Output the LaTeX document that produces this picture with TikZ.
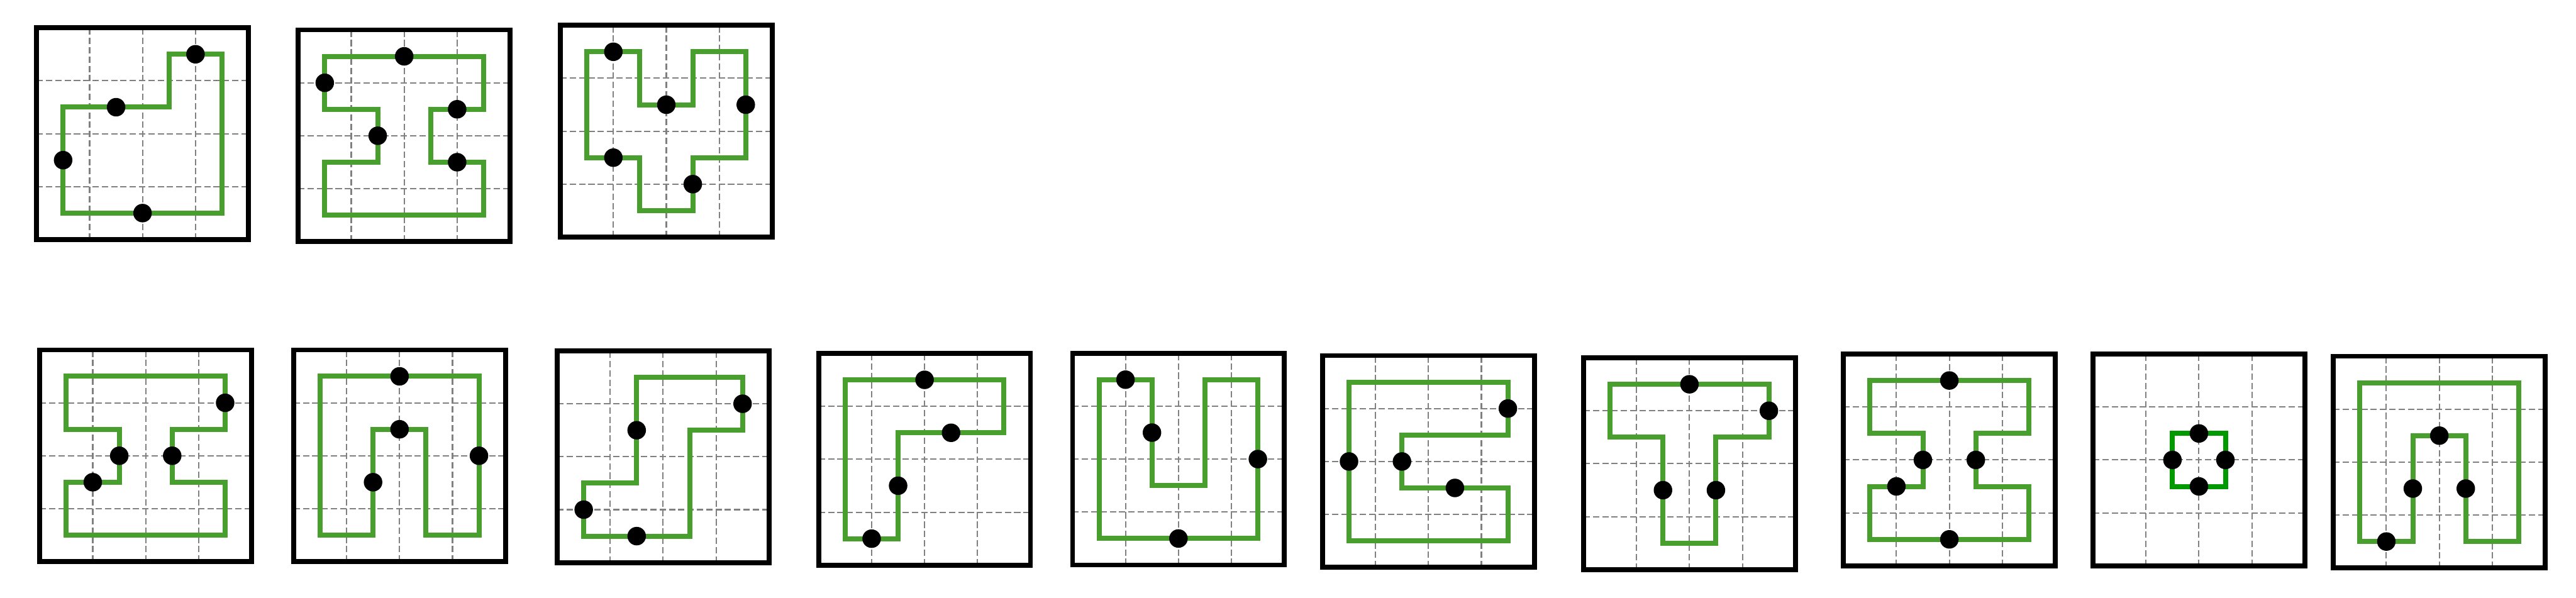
\documentclass[tikz,border=0pt]{standalone}
\usepackage{tikz}
\definecolor{shapegreen}{RGB}{73,159,45}
\definecolor{darkgreen}{RGB}{0,153,0}
\tikzstyle{panel}=[draw=black,line width=2.6pt]
\tikzstyle{gridline}=[draw=gray,line width=0.7pt,dash pattern=on 3.4pt off 1.6pt]
\tikzstyle{region}=[draw=shapegreen,line width=2.7pt]
\tikzstyle{dot}=[circle,fill=black,inner sep=0pt,minimum size=0.35cm]

\begin{document}
\begin{tikzpicture}

  \useasboundingbox (0,0) rectangle (48.646,11.283);

  % frames and dashed grids
  \foreach \x/\y in {0.692/6.758, 5.633/6.719, 10.583/6.805, 0.752/0.675, 5.545/0.675, 10.523/0.657, 15.460/0.609, 20.254/0.612, 24.975/0.567, 29.904/0.525, 34.812/0.596, 39.525/0.596, 44.064/0.555}{
    \begin{scope}[shift={(\x,\y)}]
      \foreach \i in {1,2,3}{
        \draw[gridline] (\i,0)--(\i,4);
        \draw[gridline] (0,\i)--(4,\i);
      }
      \draw[panel] (0,0) rectangle (4,4);
    \end{scope}
  }

  % top row
  \begin{scope}[shift={(0.692,6.758)}]
    \draw[region] (0.5,0.5)--(3.5,0.5)--(3.5,3.5)--(2.5,3.5)--(2.5,2.5)--(0.5,2.5)--cycle;
    \node[dot] (A1) at (3,3.5) {};
    \node[dot] (A2) at (1.5,2.5) {};
    \node[dot] (A3) at (0.5,1.5) {};
    \node[dot] (A4) at (2,0.5) {};
  \end{scope}

  \begin{scope}[shift={(5.633,6.719)}]
    \draw[region] (0.5,3.5)--(3.5,3.5)--(3.5,2.5)--(2.5,2.5)--(2.5,1.5)--(3.5,1.5)--(3.5,0.5)--(0.5,0.5)--(0.5,1.5)--(1.5,1.5)--(1.5,2.5)--(0.5,2.5)--cycle;
    \node[dot] (B1) at (2,3.5) {};
    \node[dot] (B2) at (0.5,3) {};
    \node[dot] (B3) at (3,2.5) {};
    \node[dot] (B4) at (1.5,2) {};
    \node[dot] (B5) at (3,1.5) {};
  \end{scope}

  \begin{scope}[shift={(10.583,6.805)}]
    \draw[region] (0.5,3.5)--(1.5,3.5)--(1.5,2.5)--(2.5,2.5)--(2.5,3.5)--(3.5,3.5)--(3.5,1.5)--(2.5,1.5)--(2.5,0.5)--(1.5,0.5)--(1.5,1.5)--(0.5,1.5)--cycle;
    \node[dot] (C1) at (1,3.5) {};
    \node[dot] (C2) at (2,2.5) {};
    \node[dot] (C3) at (3.5,2.5) {};
    \node[dot] (C4) at (1,1.5) {};
    \node[dot] (C5) at (2.5,1) {};
  \end{scope}

  % bottom row
  \begin{scope}[shift={(0.752,0.675)}]
    \draw[region] (0.5,3.5)--(3.5,3.5)--(3.5,2.5)--(2.5,2.5)--(2.5,1.5)--(3.5,1.5)--(3.5,0.5)--(0.5,0.5)--(0.5,1.5)--(1.5,1.5)--(1.5,2.5)--(0.5,2.5)--cycle;
    \node[dot] (D1) at (3.5,3) {};
    \node[dot] (D2) at (1.5,2) {};
    \node[dot] (D3) at (2.5,2) {};
    \node[dot] (D4) at (1,1.5) {};
  \end{scope}

  \begin{scope}[shift={(5.545,0.675)}]
    \draw[region] (0.5,3.5)--(3.5,3.5)--(3.5,0.5)--(2.5,0.5)--(2.5,2.5)--(1.5,2.5)--(1.5,0.5)--(0.5,0.5)--cycle;
    \node[dot] (E1) at (2,3.5) {};
    \node[dot] (E2) at (2,2.5) {};
    \node[dot] (E3) at (3.5,2) {};
    \node[dot] (E4) at (1.5,1.5) {};
  \end{scope}

  \begin{scope}[shift={(10.523,0.657)}]
    \draw[region] (1.5,3.5)--(3.5,3.5)--(3.5,2.5)--(2.5,2.5)--(2.5,0.5)--(0.5,0.5)--(0.5,1.5)--(1.5,1.5)--cycle;
    \node[dot] (F1) at (3.5,3) {};
    \node[dot] (F2) at (1.5,2.5) {};
    \node[dot] (F3) at (0.5,1) {};
    \node[dot] (F4) at (1.5,0.5) {};
  \end{scope}

  \begin{scope}[shift={(15.460,0.609)}]
    \draw[region] (0.5,3.5)--(3.5,3.5)--(3.5,2.5)--(1.5,2.5)--(1.5,0.5)--(0.5,0.5)--cycle;
    \node[dot] (G1) at (2,3.5) {};
    \node[dot] (G2) at (2.5,2.5) {};
    \node[dot] (G3) at (1.5,1.5) {};
    \node[dot] (G4) at (1,0.5) {};
  \end{scope}

  \begin{scope}[shift={(20.254,0.612)}]
    \draw[region] (0.5,3.5)--(1.5,3.5)--(1.5,1.5)--(2.5,1.5)--(2.5,3.5)--(3.5,3.5)--(3.5,0.5)--(0.5,0.5)--cycle;
    \node[dot] (H1) at (1,3.5) {};
    \node[dot] (H2) at (1.5,2.5) {};
    \node[dot] (H3) at (3.5,2) {};
    \node[dot] (H4) at (2,0.5) {};
  \end{scope}

  \begin{scope}[shift={(24.975,0.567)}]
    \draw[region] (0.5,3.5)--(3.5,3.5)--(3.5,2.5)--(1.5,2.5)--(1.5,1.5)--(3.5,1.5)--(3.5,0.5)--(0.5,0.5)--cycle;
    \node[dot] (I1) at (3.5,3) {};
    \node[dot] (I2) at (0.5,2) {};
    \node[dot] (I3) at (1.5,2) {};
    \node[dot] (I4) at (2.5,1.5) {};
  \end{scope}

  \begin{scope}[shift={(29.904,0.525)}]
    \draw[region] (0.5,3.5)--(3.5,3.5)--(3.5,2.5)--(2.5,2.5)--(2.5,0.5)--(1.5,0.5)--(1.5,2.5)--(0.5,2.5)--cycle;
    \node[dot] (J1) at (2,3.5) {};
    \node[dot] (J2) at (3.5,3) {};
    \node[dot] (J3) at (1.5,1.5) {};
    \node[dot] (J4) at (2.5,1.5) {};
  \end{scope}

  \begin{scope}[shift={(34.812,0.596)}]
    \draw[region] (0.5,3.5)--(3.5,3.5)--(3.5,2.5)--(2.5,2.5)--(2.5,1.5)--(3.5,1.5)--(3.5,0.5)--(0.5,0.5)--(0.5,1.5)--(1.5,1.5)--(1.5,2.5)--(0.5,2.5)--cycle;
    \node[dot] (K1) at (2,3.5) {};
    \node[dot] (K2) at (1.5,2) {};
    \node[dot] (K3) at (2.5,2) {};
    \node[dot] (K4) at (1,1.5) {};
    \node[dot] (K5) at (2,0.5) {};
  \end{scope}

  \begin{scope}[shift={(39.525,0.596)}]
    \draw[region,draw=darkgreen] (1.5,1.5) rectangle (2.5,2.5);
    \node[dot] (L1) at (2,2.5) {};
    \node[dot] (L2) at (1.5,2) {};
    \node[dot] (L3) at (2.5,2) {};
    \node[dot] (L4) at (2,1.5) {};
  \end{scope}

  \begin{scope}[shift={(44.064,0.555)}]
    \draw[region] (0.5,3.5)--(3.5,3.5)--(3.5,0.5)--(2.5,0.5)--(2.5,2.5)--(1.5,2.5)--(1.5,0.5)--(0.5,0.5)--cycle;
    \node[dot] (M1) at (2,2.5) {};
    \node[dot] (M2) at (1.5,1.5) {};
    \node[dot] (M3) at (2.5,1.5) {};
    \node[dot] (M4) at (1,0.5) {};
  \end{scope}

\end{tikzpicture}
\end{document}
